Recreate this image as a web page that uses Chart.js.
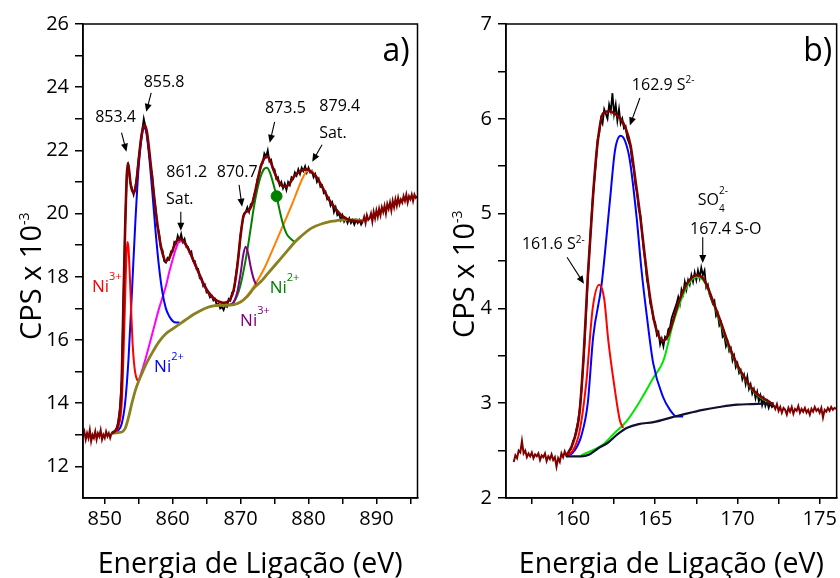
<!DOCTYPE html>
<html>
<head>
<meta charset="utf-8">
<script src="https://cdn.jsdelivr.net/npm/chart.js@4.4.0/dist/chart.umd.min.js"></script>
<style>
body { margin: 0; background: #fff; }
#wrapA { position: absolute; left: 0; top: 0; width: 424px; height: 578px; }
#wrapB { position: absolute; left: 424px; top: 0; width: 416px; height: 578px; }
</style>
</head>
<body>
<div id="wrapA"><canvas id="chartA"></canvas></div>
<div id="wrapB"><canvas id="chartB"></canvas></div>
<script>
// ---------- Panel a) Ni 2p ----------
// measured spectrum, 851..888 eV every 0.25 eV
var rawAStart = 851, rawAStep = 0.25;
var rawAY = [
  13.02, 13.10, 13.08, 13.22, 13.38, 13.85, 14.75, 17.1,
  19.6, 21.25, 21.5, 21.0, 20.8, 20.6, 20.85, 21.2,
  21.75, 22.2, 22.6, 23.0, 22.75, 22.45, 22.0, 21.5,
  21.2, 20.55, 20.15, 19.6, 19.4, 18.9, 18.85, 18.5,
  18.45, 18.6, 18.55, 18.8, 18.8, 19.1, 19.05, 19.3,
  19.15, 19.35, 19.1, 19.2, 18.95, 18.95, 18.75, 18.8,
  18.5, 18.5, 18.25, 18.25, 17.95, 17.95, 17.7, 17.75,
  17.5, 17.5, 17.35, 17.4, 17.25, 17.3, 17.1, 17.15,
  17.0, 17.05, 16.95, 17.1, 17.05, 17.3, 17.25, 17.5,
  17.55, 17.95, 18.35, 18.75, 19.35, 19.7, 20.0, 20.05,
  20.2, 20.05, 20.3, 20.3, 20.6, 20.75, 21.1, 21.25,
  21.55, 21.6, 21.9, 21.8, 22.0, 21.65, 21.7, 21.4,
  21.4, 21.1, 21.15, 20.9, 21.0, 20.8, 20.95, 20.75,
  21.0, 20.9, 21.15, 21.1, 21.3, 21.2, 21.4, 21.25,
  21.45, 21.35, 21.5, 21.3, 21.45, 21.3, 21.35, 21.15,
  21.25, 21.0, 21.1, 20.85, 20.9, 20.65, 20.7, 20.45,
  20.5, 20.25, 20.35, 20.05, 20.2, 19.95, 20.0, 19.8,
  19.95, 19.75, 19.85, 19.7, 19.85, 19.7, 19.8, 19.65,
  19.8, 19.7, 19.8, 19.65, 19.75
];
// spectrum outside the fitted range, every 0.2 eV
var tailAStep = 0.2;
var tailALeftStart = 846.8;
var tailALeftY = [12.95, 13.1, 12.85, 13.05, 12.9, 13.15, 12.8, 13.0, 12.9, 13.1, 12.85,
  13.05, 12.95, 13.15, 12.85, 13.0, 12.9, 13.1, 12.95, 13.05, 12.9, 13.05];
var tailARightStart = 888;
var tailARightY = [19.75, 19.9, 19.7, 19.95, 19.8, 19.85, 20.0, 19.75, 20.05, 19.85,
  20.1, 19.9, 20.15, 19.95, 20.2, 20.05, 20.25, 20.0, 20.3, 20.15,
  20.35, 20.1, 20.4, 20.2, 20.45, 20.25, 20.5, 20.3, 20.45, 20.35,
  20.55, 20.4, 20.6, 20.35, 20.55, 20.45, 20.6, 20.4, 20.6, 20.5, 20.55];

// fit envelope
var envAX = [851, 851.5, 852, 852.5, 852.75, 853, 853.25, 853.4, 853.6, 853.8,
  854, 854.3, 854.6, 855, 855.4, 855.8, 856.2, 856.6, 857, 857.5,
  858, 858.5, 859, 859.5, 860, 860.5, 861, 861.5, 862, 862.5,
  863, 863.5, 864, 864.5, 865, 865.5, 866, 866.5, 867, 867.5,
  868, 868.5, 869, 869.5, 870, 870.4, 870.8, 871.2, 871.6, 872,
  872.5, 873, 873.5, 873.9, 874.4, 875, 875.5, 876, 876.6, 877.2,
  877.8, 878.5, 879.2, 879.8, 880.5, 881, 881.5, 882, 882.5, 883,
  883.5, 884, 884.5, 885, 885.5, 886, 886.5, 887, 887.5, 888];
var envAY = [13.05, 13.12, 13.4, 14.7, 17.2, 19.5, 21.2, 21.6, 21.35, 20.95,
  20.75, 20.65, 20.9, 21.7, 22.45, 22.8, 22.6, 21.9, 21.1, 20.1,
  19.3, 18.75, 18.5, 18.6, 18.85, 19.1, 19.2, 19.15, 19.0, 18.8,
  18.55, 18.3, 18.05, 17.8, 17.6, 17.45, 17.33, 17.25, 17.2, 17.18,
  17.2, 17.3, 17.6, 18.3, 19.3, 19.9, 20.05, 20.1, 20.25, 20.55,
  21.05, 21.5, 21.75, 21.82, 21.65, 21.3, 21.05, 20.9, 20.85, 20.95,
  21.15, 21.3, 21.38, 21.4, 21.3, 21.2, 21.05, 20.85, 20.65, 20.45,
  20.3, 20.15, 20.02, 19.92, 19.85, 19.8, 19.78, 19.76, 19.75, 19.75];

// background
var bgAX = [851, 852, 852.6, 853, 853.5, 854, 854.5, 855, 855.5, 856,
  857, 858, 859, 860, 861, 862, 863, 864, 865, 866,
  867, 868, 869, 870, 871, 872, 873, 874, 875, 876,
  877, 878, 879, 880, 881, 882, 883, 884, 885, 886, 887, 888];
var bgAY = [13.05, 13.07, 13.1, 13.2, 13.55, 14.0, 14.4, 14.7, 14.95, 15.2,
  15.6, 15.95, 16.2, 16.35, 16.5, 16.65, 16.8, 16.92, 17.02, 17.08,
  17.1, 17.1, 17.12, 17.2, 17.38, 17.65, 17.85, 18.1, 18.35, 18.6,
  18.85, 19.1, 19.3, 19.48, 19.6, 19.68, 19.74, 19.77, 19.8, 19.8, 19.8, 19.78];

// Ni3+ 853.4
var redAX = [851, 851.5, 852, 852.5, 852.8, 853, 853.2, 853.35, 853.5, 853.7, 853.9, 854.1, 854.3, 854.5, 854.75, 855];
var redAY = [13.05, 13.1, 13.25, 14.0, 15.8, 17.3, 18.7, 19.1, 18.9, 18.0, 16.9, 15.9, 15.3, 14.95, 14.75, 14.7];
// Ni2+ 855.8
var blueAX = [851, 852, 852.5, 853, 853.5, 854, 854.5, 855, 855.5, 855.8, 856.1, 856.5, 857, 857.5, 858, 858.5, 859, 859.5, 860, 860.5, 861];
var blueAY = [13.05, 13.15, 13.35, 14.0, 15.4, 17.5, 19.7, 21.5, 22.5, 22.7, 22.6, 21.9, 20.7, 19.4, 18.3, 17.5, 17.0, 16.75, 16.6, 16.55, 16.55];
// satellite 861.2
var magAX = [855, 856, 857, 858, 859, 859.5, 860, 860.5, 861, 861.5, 862, 862.5, 863, 863.5, 864, 864.5, 865, 865.5, 866, 867, 868];
var magAY = [14.7, 15.4, 16.2, 17.0, 17.7, 18.15, 18.55, 18.9, 19.12, 19.12, 18.98, 18.78, 18.53, 18.28, 18.03, 17.78, 17.58, 17.43, 17.32, 17.18, 17.12];
// Ni3+ 870.7
var purAX = [867.5, 868.5, 869, 869.5, 870, 870.4, 870.75, 871.1, 871.5, 871.9, 872.3];
var purAY = [17.1, 17.12, 17.2, 17.5, 18.1, 18.7, 18.95, 18.75, 18.3, 17.95, 17.75];
// Ni2+ 873.5
var greenAX = [867.5, 868.5, 869, 869.5, 870, 870.5, 871, 871.5, 872, 872.5, 873, 873.5, 873.9, 874.4, 875, 875.3, 875.7, 876.2, 876.8, 877.5, 878];
var greenAY = [17.1, 17.12, 17.2, 17.4, 17.75, 18.25, 18.85, 19.55, 20.25, 20.8, 21.2, 21.42, 21.45, 21.25, 20.8, 20.55, 20.15, 19.7, 19.35, 19.18, 19.1];
// satellite 879.4
var oraAX = [869.5, 870.5, 871.5, 872.5, 873.5, 874.5, 875.5, 876.5, 877.5, 878.5, 879.2, 879.8, 880.4, 881];
var oraAY = [17.15, 17.3, 17.55, 17.88, 18.27, 18.75, 19.25, 19.75, 20.25, 20.8, 21.15, 21.35, 21.36, 21.2];
var dotA = [{ x: 875.3, y: 20.55 }];

// ---------- Panel b) S 2p ----------
var rawBStart = 159.6, rawBStep = 0.1;
var rawBY = [
  2.43, 2.47, 2.5, 2.52,
  2.6, 2.63, 2.72, 2.8, 2.92, 3.1, 3.35, 3.62, 3.95, 4.3,
  4.6, 4.9, 5.15, 5.35, 5.55, 5.78, 5.85, 6.0, 5.95, 6.1,
  6.05, 6.0, 6.15, 6.08, 6.27, 6.05, 6.15, 5.98, 6.1, 5.95,
  6.0, 5.9, 5.92, 5.8, 5.75, 5.7, 5.55, 5.48, 5.3, 5.22,
  5.05, 4.98, 4.8, 4.62, 4.5, 4.3, 4.22, 4.05, 4.0, 3.88,
  3.85, 3.72, 3.75, 3.62, 3.68, 3.6, 3.7, 3.68, 3.78, 3.8,
  3.9, 3.95, 4.0, 4.05, 4.12, 4.05, 4.2, 4.15, 4.28, 4.2,
  4.3, 4.25, 4.35, 4.28, 4.38, 4.3, 4.4, 4.32, 4.43, 4.35,
  4.4, 4.22, 4.25, 4.15, 4.1, 4.05, 4.08, 3.92, 3.95, 3.82,
  3.85, 3.7, 3.72, 3.6, 3.65, 3.55, 3.58, 3.45, 3.5, 3.38,
  3.42, 3.32, 3.35, 3.25, 3.3, 3.2, 3.28, 3.15, 3.2, 3.1,
  3.15, 3.05, 3.12, 3.02, 3.08, 2.98, 3.05, 2.97, 3.02, 2.95,
  3.0, 2.96, 2.98
];
var tailBStep = 0.1;
var tailBLeftStart = 156.4;
var tailBLeftY = [2.38, 2.45, 2.42, 2.5, 2.48, 2.6, 2.47, 2.5, 2.43, 2.47, 2.44,
  2.48, 2.42, 2.46, 2.44, 2.47, 2.4, 2.45, 2.43, 2.47, 2.39, 2.44,
  2.41, 2.46, 2.4, 2.43, 2.33, 2.42, 2.38, 2.47, 2.43, 2.49, 2.44];
var tailBRightStart = 172.2;
var tailBRightY = [2.98, 2.94, 2.99, 2.92, 2.96, 2.9, 2.95, 2.93, 2.88, 2.95,
  2.91, 2.96, 2.89, 2.94, 2.92, 2.97, 2.9, 2.94, 2.91, 2.95,
  2.9, 2.93, 2.88, 2.94, 2.91, 2.96, 2.92, 2.94, 2.9, 2.95,
  2.85, 2.93, 2.91, 2.95, 2.92, 2.96, 2.93, 2.95, 2.94];

var envBX = [159.6, 160, 160.4, 160.65, 160.9, 161.23, 161.5, 161.84, 162.2, 162.6,
  162.9, 163.2, 163.5, 163.8, 164.1, 164.4, 164.7, 165, 165.3, 165.5,
  165.8, 166.1, 166.4, 166.8, 167.1, 167.5, 167.9, 168.2, 168.5, 169,
  169.5, 170, 170.5, 171, 171.5, 171.8, 172.2];
var envBY = [2.45, 2.58, 2.9, 3.5, 4.33, 5.21, 5.75, 6.06, 6.08, 6.05,
  6.0, 5.9, 5.72, 5.35, 4.96, 4.5, 4.1, 3.82, 3.68, 3.66,
  3.72, 3.88, 4.05, 4.22, 4.3, 4.35, 4.32, 4.22, 4.08, 3.85,
  3.6, 3.4, 3.25, 3.13, 3.06, 3.03, 2.98];
var bgBX = [159.6, 160.5, 161, 161.5, 162.1, 162.7, 163.3, 164, 164.9, 166, 166.9, 167.9, 168.9, 170, 170.9, 172.2];
var bgBY = [2.44, 2.44, 2.46, 2.52, 2.58, 2.67, 2.74, 2.78, 2.8, 2.85, 2.89, 2.93, 2.96, 2.985, 2.99, 3.0];
// S2- 161.6
var redBX = [159.6, 160, 160.4, 160.8, 161.2, 161.6, 161.9, 162.15, 162.55, 162.85, 163.05];
var redBY = [2.45, 2.5, 2.7, 3.2, 4.0, 4.25, 4.1, 3.66, 3.14, 2.82, 2.74];
// S2- 162.9
var blueBX = [159.6, 160, 160.5, 160.9, 161.23, 161.74, 162.25, 162.55, 162.9, 163.2, 163.46, 163.87, 164.17, 164.47, 164.88, 165.49, 165.9, 166.3, 166.7];
var blueBY = [2.45, 2.48, 2.65, 3.0, 3.7, 4.25, 5.14, 5.66, 5.82, 5.75, 5.56, 4.96, 4.4, 3.95, 3.42, 3.06, 2.93, 2.86, 2.86];
// SO4 2- 167.4
var greenBX = [160.5, 161.8, 162.5, 163.3, 164, 164.9, 165.5, 166.1, 166.6, 167, 167.5, 168, 168.5, 169, 169.5, 170, 170.5, 171, 171.5, 172];
var greenBY = [2.45, 2.56, 2.68, 2.82, 3.0, 3.27, 3.45, 3.85, 4.1, 4.25, 4.33, 4.28, 4.07, 3.83, 3.58, 3.39, 3.24, 3.12, 3.05, 3.0];

// ---------- helpers ----------
Chart.defaults.font.family = "'Open Sans', sans-serif";
var FONT = "'Open Sans', sans-serif";

function pts(xs, ys) {
  return xs.map(function (x, i) { return { x: x, y: ys[i] }; });
}
function grid(start, step, ys) {
  return ys.map(function (y, i) { return { x: +(start + i * step).toFixed(2), y: y }; });
}
function line(data, color, width, order, smooth) {
  return {
    data: data, borderColor: color, backgroundColor: color, borderWidth: width,
    pointRadius: 0, showLine: true, order: order, tension: 0,
    cubicInterpolationMode: smooth ? 'monotone' : 'default'
  };
}

// text with superscripts/subscripts; parts = [text, dy, size, advance]
function rich(ctx, x, cy, parts, color, align) {
  var base = parts[0][2];
  var w = 0;
  parts.forEach(function (p) {
    ctx.font = p[2] + "px " + FONT;
    if (p[3] !== false) w += ctx.measureText(p[0]).width;
  });
  var cx = align === 'center' ? x - w / 2 : x;
  var y = cy + base * 0.357;
  ctx.fillStyle = color;
  ctx.textAlign = 'left';
  ctx.textBaseline = 'alphabetic';
  parts.forEach(function (p) {
    ctx.font = p[2] + "px " + FONT;
    ctx.fillText(p[0], cx, y + p[1]);
    if (p[3] !== false) cx += ctx.measureText(p[0]).width;
  });
}
function arrow(ctx, x1, y1, x2, y2) {
  var a = Math.atan2(y2 - y1, x2 - x1), L = 8, H = 3.5;
  ctx.beginPath();
  ctx.moveTo(x1, y1);
  ctx.lineTo(x2 - Math.cos(a) * L * 0.8, y2 - Math.sin(a) * L * 0.8);
  ctx.stroke();
  ctx.beginPath();
  ctx.moveTo(x2, y2);
  ctx.lineTo(x2 - Math.cos(a) * L - Math.sin(a) * H, y2 - Math.sin(a) * L + Math.cos(a) * H);
  ctx.lineTo(x2 - Math.cos(a) * L + Math.sin(a) * H, y2 - Math.sin(a) * L - Math.cos(a) * H);
  ctx.closePath();
  ctx.fill();
}

function decor(p) {
  return {
    id: 'decor',
    afterDraw: function (chart) {
      var ctx = chart.ctx, a = chart.chartArea, xs = chart.scales.x, ys = chart.scales.y;
      ctx.save();
      ctx.strokeStyle = '#000';
      ctx.lineWidth = 1.5;
      ctx.strokeRect(a.left, a.top, a.right - a.left, a.bottom - a.top);
      ctx.lineWidth = 1.1;
      ctx.fillStyle = '#000';
      p.arrows.forEach(function (r) {
        arrow(ctx, xs.getPixelForValue(r[0]), ys.getPixelForValue(r[1]),
          xs.getPixelForValue(r[2]), ys.getPixelForValue(r[3]));
      });
      p.notes.forEach(function (n) {
        rich(ctx, xs.getPixelForValue(n.x), ys.getPixelForValue(n.y), n.parts, n.color || '#000', n.align || 'center');
      });
      // y axis title
      ctx.translate(p.titleX, p.titleY);
      ctx.rotate(-Math.PI / 2);
      rich(ctx, 0, 0, [['CPS x 10', 0, 29], ['-3', -12, 14]], '#000', 'left');
      ctx.restore();
    }
  };
}

function options(c) {
  return {
    responsive: true, maintainAspectRatio: false, animation: false, events: [],
    layout: { padding: { top: 24, right: c.padRight, bottom: 0, left: 0 } },
    plugins: { legend: { display: false }, tooltip: { enabled: false } },
    scales: {
      x: {
        type: 'linear', min: c.xMin, max: c.xMax,
        afterBuildTicks: function (s) { s.ticks = c.xTicks.map(function (v) { return { value: v }; }); },
        afterFit: function (s) { s.height = 80; },
        ticks: { callback: c.xLabel, autoSkip: false, maxRotation: 0, color: '#000', font: { size: 20 }, padding: 3 },
        grid: { drawOnChartArea: false, tickLength: 6, color: '#000', lineWidth: 1.5 },
        border: { color: '#000', width: 1.5 },
        title: { display: true, text: 'Energia de Ligação (eV)', color: '#000', font: { size: 28.5 }, padding: { top: 0, bottom: -4 } }
      },
      y: {
        type: 'linear', min: c.yMin, max: c.yMax,
        afterBuildTicks: function (s) { s.ticks = c.yTicks.map(function (v) { return { value: v }; }); },
        afterFit: function (s) { s.width = c.yWidth; },
        ticks: { callback: c.yLabel, autoSkip: false, color: '#000', font: { size: 20 }, padding: 6 },
        grid: { drawOnChartArea: false, tickLength: 8, color: '#000', lineWidth: 1.5 },
        border: { color: '#000', width: 1.5 }
      }
    }
  };
}

// ---------- chart a ----------
var BROWN = 'rgb(128,0,0)';
new Chart(document.getElementById('chartA'), {
  type: 'scatter',
  data: {
    datasets: [
      { data: dotA, pointRadius: 5.5, backgroundColor: 'rgb(0,128,0)', borderColor: 'rgb(0,128,0)', showLine: false, order: -1 },
      line(pts(envAX, envAY), BROWN, 2.6, 0, true),
      line(pts(bgAX, bgAY), 'rgb(138,128,32)', 2.8, 1, true),
      line(pts(redAX, redAY), 'rgb(255,0,0)', 2, 2, true),
      line(pts(blueAX, blueAY), 'rgb(0,0,255)', 2, 2, true),
      line(pts(magAX, magAY), 'rgb(255,0,255)', 2, 2, true),
      line(pts(purAX, purAY), 'rgb(128,0,128)', 2, 2, true),
      line(pts(greenAX, greenAY), 'rgb(0,128,0)', 2, 2, true),
      line(pts(oraAX, oraAY), 'rgb(255,128,0)', 2, 2, true),
      line(grid(rawAStart, rawAStep, rawAY), '#000', 1.8, 4, false),
      line(grid(tailALeftStart, tailAStep, tailALeftY), BROWN, 2, 4, false),
      line(grid(tailARightStart, tailAStep, tailARightY), BROWN, 2, 4, false)
    ]
  },
  options: options({
    xMin: 846.8, xMax: 896.05, yMin: 11, yMax: 26, yWidth: 83, padRight: 2.5,
    xTicks: [850, 855, 860, 865, 870, 875, 880, 885, 890, 895],
    xLabel: function (v) { return v % 10 === 0 ? String(v) : ''; },
    yTicks: [12, 13, 14, 15, 16, 17, 18, 19, 20, 21, 22, 23, 24, 25, 26],
    yLabel: function (v) { return v % 2 === 0 ? String(v) : ''; }
  }),
  plugins: [decor({
    titleX: 31, titleY: 340,
    arrows: [
      [852.47, 22.56, 853.2, 21.96],
      [856.84, 23.82, 856.11, 23.22],
      [861.2, 20.06, 861.2, 19.46],
      [869.78, 20.91, 870.22, 20.22],
      [875.02, 22.9, 874.29, 22.24],
      [882.0, 22.18, 880.55, 21.64]
    ],
    notes: [
      { x: 851.6, y: 23.08, parts: [['853.4', 0, 16]] },
      { x: 858.73, y: 24.18, parts: [['855.8', 0, 16]] },
      { x: 862.07, y: 21.33, parts: [['861.2', 0, 16]] },
      { x: 861.05, y: 20.48, parts: [['Sat.', 0, 16]] },
      { x: 869.5, y: 21.33, parts: [['870.7', 0, 16]] },
      { x: 876.6, y: 23.36, parts: [['873.5', 0, 16]] },
      { x: 884.6, y: 23.42, parts: [['879.4', 0, 16]] },
      { x: 883.6, y: 22.56, parts: [['Sat.', 0, 16]] },
      { x: 892.9, y: 25.18, parts: [['a)', 0, 32]] },
      { x: 848.11, y: 17.72, align: 'left', color: 'rgb(255,0,0)', parts: [['Ni', 0, 17], ['3+', -12, 11]] },
      { x: 857.27, y: 15.19, align: 'left', color: 'rgb(0,0,255)', parts: [['Ni', 0, 17], ['2+', -12, 11]] },
      { x: 869.93, y: 16.65, align: 'left', color: 'rgb(128,0,128)', parts: [['Ni', 0, 17], ['3+', -12, 11]] },
      { x: 874.29, y: 17.69, align: 'left', color: 'rgb(0,128,0)', parts: [['Ni', 0, 17], ['2+', -12, 11]] }
    ]
  })]
});

// ---------- chart b ----------
new Chart(document.getElementById('chartB'), {
  type: 'scatter',
  data: {
    datasets: [
      line(pts(envBX, envBY), BROWN, 2.6, 0, true),
      line(pts(bgBX, bgBY), 'rgb(16,16,48)', 2.2, 1, true),
      line(pts(redBX, redBY), 'rgb(255,0,0)', 2, 2, true),
      line(pts(blueBX, blueBY), 'rgb(0,0,255)', 2, 2, true),
      line(pts(greenBX, greenBY), 'rgb(0,230,0)', 2, 3, true),
      line(grid(rawBStart, rawBStep, rawBY), '#000', 1.8, 4, false),
      line(grid(tailBLeftStart, tailBStep, tailBLeftY), BROWN, 2, 4, false),
      line(grid(tailBRightStart, tailBStep, tailBRightY), BROWN, 2, 4, false)
    ]
  },
  options: options({
    xMin: 155.93, xMax: 176.03, yMin: 2, yMax: 7, yWidth: 82, padRight: 3,
    xTicks: [157.5, 160, 162.5, 165, 167.5, 170, 172.5, 175],
    xLabel: function (v) { return v % 5 === 0 ? String(v) : ''; },
    yTicks: [2, 2.5, 3, 3.5, 4, 4.5, 5, 5.5, 6, 6.5, 7],
    yLabel: function (v) { return v % 1 === 0 ? String(v) : ''; }
  }),
  plugins: [decor({
    titleX: 40, titleY: 338,
    arrows: [
      [164.07, 6.22, 163.46, 5.93],
      [167.89, 4.75, 167.89, 4.48],
      [159.64, 4.54, 160.67, 4.26]
    ],
    notes: [
      { x: 163.58, y: 6.36, align: 'left', parts: [['162.9 S', 0, 16], ['2-', -7, 10]] },
      { x: 167.59, y: 5.15, align: 'left', parts: [['SO', 0, 16], ['4', 7, 10, false], ['2-', -11, 10]] },
      { x: 169.29, y: 4.84, parts: [['167.4 S-O', 0, 16]] },
      { x: 156.9, y: 4.69, align: 'left', parts: [['161.6 S', 0, 16], ['2-', -6, 10]] },
      { x: 174.88, y: 6.73, parts: [['b)', 0, 32]] }
    ]
  })]
});
</script>
</body>
</html>
